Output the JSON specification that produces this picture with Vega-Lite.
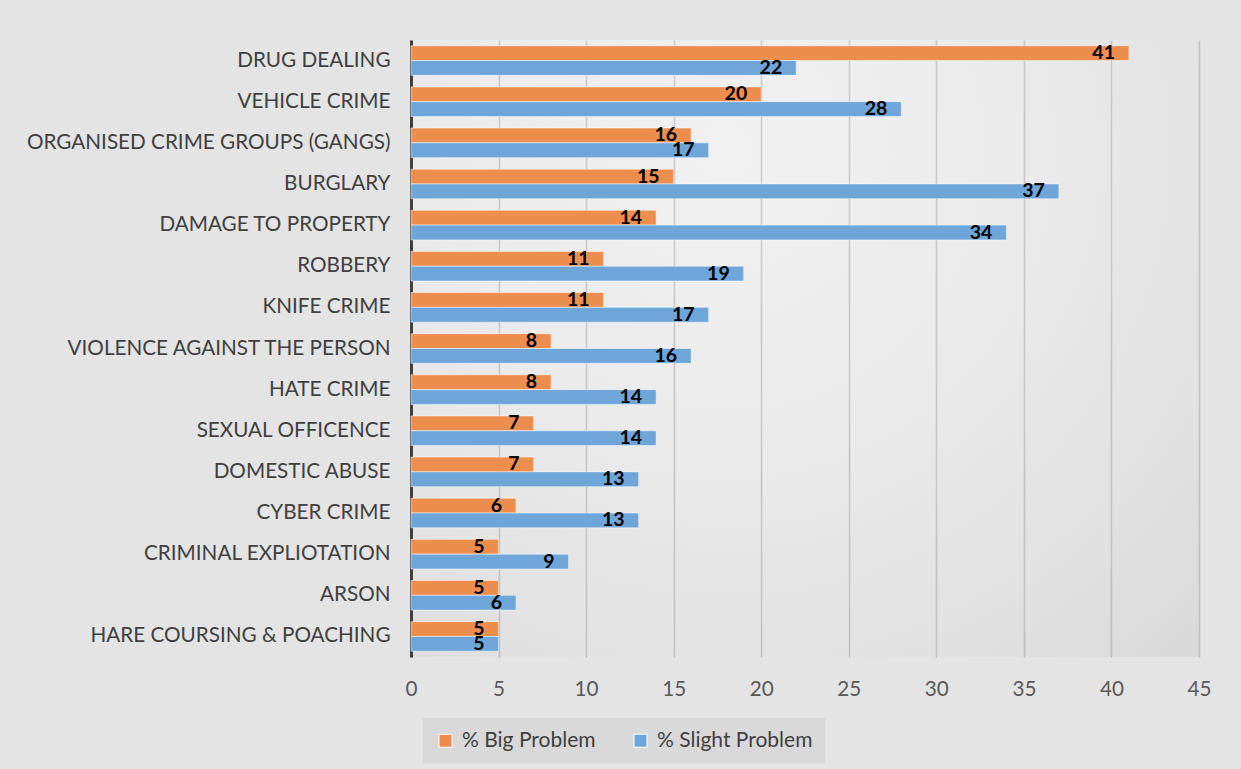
{
  "$schema": "https://vega.github.io/schema/vega-lite/v6.json",
  "width": 788,
  "height": 617,
  "autosize": "none",
  "padding": {"left": 411, "top": 40, "right": 42, "bottom": 112},
  "background": "#e4e4e4",
  "config": {
    "view": {
      "stroke": null,
      "fill": {
        "gradient": "radial",
        "x1": 0.4, "y1": 0.25, "r1": 0,
        "x2": 0.4, "y2": 0.25, "r2": 0.95,
        "stops": [
          {"offset": 0, "color": "#f1f1f1"},
          {"offset": 0.35, "color": "#ececec"},
          {"offset": 0.7, "color": "#e2e2e2"},
          {"offset": 1, "color": "#d6d6d6"}
        ]
      }
    },
    "font": "Lato"
  },
  "data": {
    "values": [
      {"crime": "DRUG DEALING", "series": "% Big Problem", "value": 41},
      {"crime": "DRUG DEALING", "series": "% Slight Problem", "value": 22},
      {"crime": "VEHICLE CRIME", "series": "% Big Problem", "value": 20},
      {"crime": "VEHICLE CRIME", "series": "% Slight Problem", "value": 28},
      {"crime": "ORGANISED CRIME GROUPS (GANGS)", "series": "% Big Problem", "value": 16},
      {"crime": "ORGANISED CRIME GROUPS (GANGS)", "series": "% Slight Problem", "value": 17},
      {"crime": "BURGLARY", "series": "% Big Problem", "value": 15},
      {"crime": "BURGLARY", "series": "% Slight Problem", "value": 37},
      {"crime": "DAMAGE TO PROPERTY", "series": "% Big Problem", "value": 14},
      {"crime": "DAMAGE TO PROPERTY", "series": "% Slight Problem", "value": 34},
      {"crime": "ROBBERY", "series": "% Big Problem", "value": 11},
      {"crime": "ROBBERY", "series": "% Slight Problem", "value": 19},
      {"crime": "KNIFE CRIME", "series": "% Big Problem", "value": 11},
      {"crime": "KNIFE CRIME", "series": "% Slight Problem", "value": 17},
      {"crime": "VIOLENCE AGAINST THE PERSON", "series": "% Big Problem", "value": 8},
      {"crime": "VIOLENCE AGAINST THE PERSON", "series": "% Slight Problem", "value": 16},
      {"crime": "HATE CRIME", "series": "% Big Problem", "value": 8},
      {"crime": "HATE CRIME", "series": "% Slight Problem", "value": 14},
      {"crime": "SEXUAL OFFICENCE", "series": "% Big Problem", "value": 7},
      {"crime": "SEXUAL OFFICENCE", "series": "% Slight Problem", "value": 14},
      {"crime": "DOMESTIC ABUSE", "series": "% Big Problem", "value": 7},
      {"crime": "DOMESTIC ABUSE", "series": "% Slight Problem", "value": 13},
      {"crime": "CYBER CRIME", "series": "% Big Problem", "value": 6},
      {"crime": "CYBER CRIME", "series": "% Slight Problem", "value": 13},
      {"crime": "CRIMINAL EXPLIOTATION", "series": "% Big Problem", "value": 5},
      {"crime": "CRIMINAL EXPLIOTATION", "series": "% Slight Problem", "value": 9},
      {"crime": "ARSON", "series": "% Big Problem", "value": 5},
      {"crime": "ARSON", "series": "% Slight Problem", "value": 6},
      {"crime": "HARE COURSING & POACHING", "series": "% Big Problem", "value": 5},
      {"crime": "HARE COURSING & POACHING", "series": "% Slight Problem", "value": 5}
    ]
  },
  "encoding": {
    "y": {
      "field": "crime",
      "type": "nominal",
      "sort": null,
      "scale": {"paddingInner": 0.28, "paddingOuter": 0.14},
      "axis": {
        "title": null,
        "ticks": false,
        "labelFont": "Lato",
        "labelFontSize": 20.7,
        "labelColor": "#404040",
        "labelPadding": 21,
        "domainColor": "#404040",
        "domainWidth": 3,
        "labelLimit": 400
      }
    },
    "x": {
      "field": "value",
      "type": "quantitative",
      "scale": {"domain": [0, 45], "nice": false},
      "axis": {
        "title": null,
        "values": [0, 5, 10, 15, 20, 25, 30, 35, 40, 45],
        "domain": false,
        "ticks": false,
        "grid": true,
        "gridColor": "#808080",
        "gridOpacity": 0.35,
        "gridWidth": 1.5,
        "labelFlush": false,
        "labelFont": "Lato",
        "labelFontSize": 20.7,
        "labelColor": "#595959",
        "labelPadding": 22
      }
    },
    "yOffset": {"field": "series", "type": "nominal", "scale": {"paddingInner": 0}}
  },
  "layer": [
    {
      "mark": {"type": "bar", "stroke": "#ffffff", "strokeOpacity": 0.5, "strokeWidth": 1},
      "encoding": {
        "color": {
          "field": "series",
          "type": "nominal",
          "scale": {"domain": ["% Big Problem", "% Slight Problem"], "range": ["#EE8E4E", "#6EA6DA"]},
          "legend": {
            "title": null,
            "orient": "none",
            "direction": "horizontal",
            "legendX": 12,
            "legendY": 678,
            "symbolType": "square",
            "symbolSize": 169,
            "symbolStrokeColor": "#ffffff",
            "symbolStrokeWidth": 1,
            "labelFont": "Lato",
            "labelFontSize": 21,
            "labelColor": "#404040",
            "labelOffset": 6,
            "columnPadding": 34,
            "padding": 12,
            "fillColor": "#d9d9d9"
          }
        }
      }
    },
    {
      "mark": {"type": "text", "align": "right", "baseline": "middle", "dx": -14, "fontWeight": "bold", "fontSize": 19.5, "font": "Lato", "color": "#000000"},
      "encoding": {
        "text": {"field": "value", "type": "quantitative"}
      }
    }
  ]
}
